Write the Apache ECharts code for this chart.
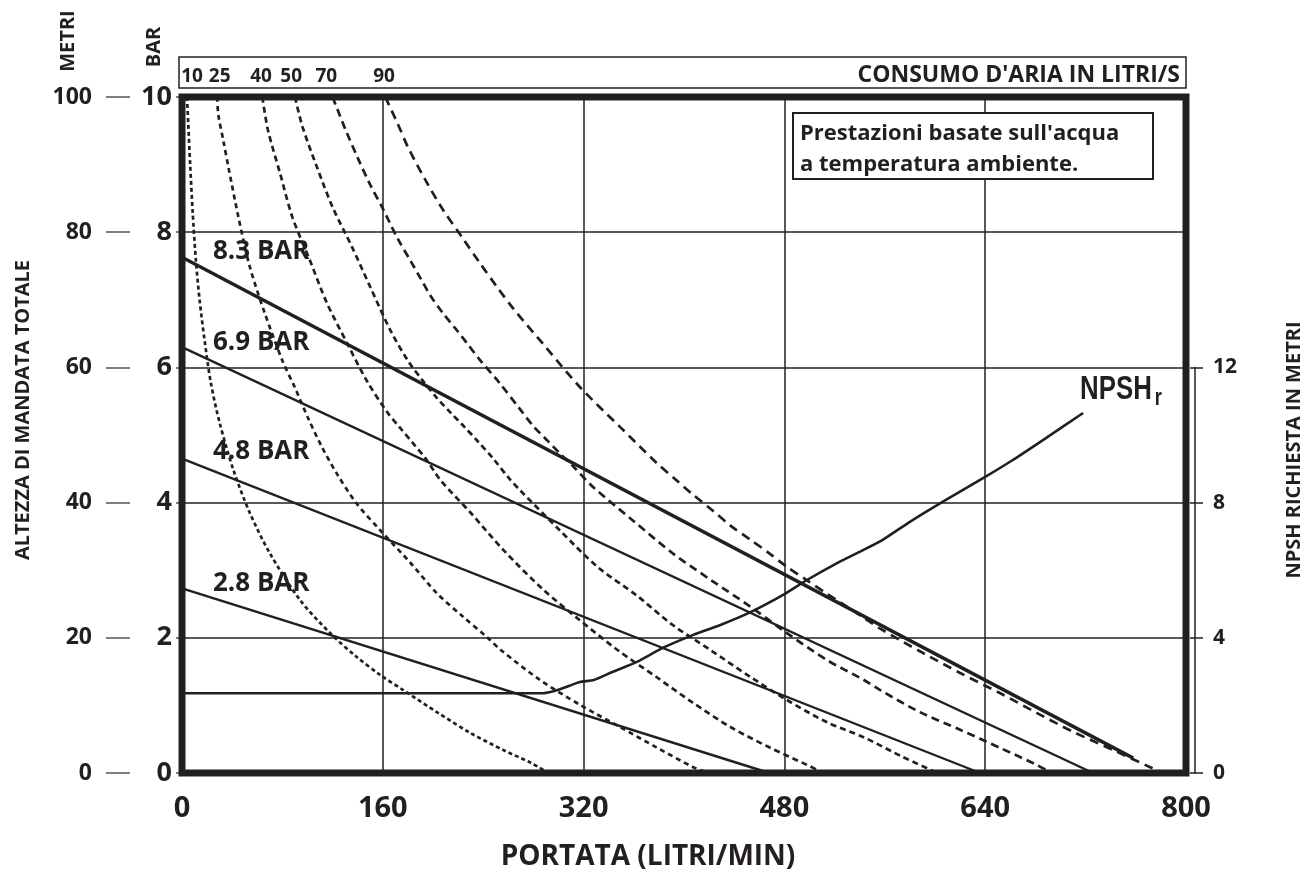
<!DOCTYPE html>
<html><head><meta charset="utf-8">
<script src="https://cdn.jsdelivr.net/npm/echarts/dist/echarts.min.js"></script>
<style>html,body{margin:0;padding:0;background:#fff}#c{width:1305px;height:875px}</style>
</head><body><div id="c"></div>
<script>
// ---------- data ----------
const xTicks = [0,160,320,480,640,800];
const metriTicks = [0,20,40,60,80,100];
const barTicks = [0,2,4,6,8,10];
const npshTicks = [0,4,8,12];
const airLabels = ['10','25','40','50','70','90'];
const airLabelPos = [8,30,63,87,115,161];
const pressureNames = ['8.3 BAR','6.9 BAR','4.8 BAR','2.8 BAR'];

// pressure lines (x: l/min, y: metri)
const p83 = [[0,76.3],[758,2.2]];
const p69 = [[0,63.0],[726,0]];
const p48 = [[0,46.5],[636,0]];
const p28 = [[0,27.3],[468,0]];

// NPSHr (x: l/min, y: metri NPSH, right axis)
const npsh = [[0,2.36],[288,2.36],[300,2.46],[317,2.69],[328,2.75],[343,2.99],[362,3.28],[383,3.70],[407,4.08],[429,4.38],[453,4.76],[479,5.27],[498,5.71],[522,6.21],[543,6.60],[558,6.89],[580,7.43],[606,8.02],[640,8.76],[662,9.26],[686,9.85],[718,10.65]];

// air consumption curves (x: l/min, y: metri)
const air10 = [[4,100],[5,96],[6.5,90],[8.5,83],[11,76],[14,70],[18,64],[23,57.7],[30,51.8],[41,44.8],[54,38.5],[70,32.5],[94,25.6],[118,20.7],[139,17.2],[158,14.5],[176,12.3],[204,8.9],[230,5.9],[256,3.4],[278,1.5],[292,0]];
const air25 = [[28,100],[29,97.3],[33,93.5],[37,89.6],[45,82.2],[54,74.9],[66,68],[80,61],[90,57],[100,52.7],[111,48.4],[123,44.4],[139,39.9],[158,35.9],[182,31.1],[203,26.6],[224,23.1],[243,20.1],[254,18.2],[285,13.8],[317,10.1],[349,6.8],[378,3.8],[407,0.9],[420,0]];
const air40 = [[64,100],[68.5,95.1],[78,88.8],[88,82.2],[102,75.8],[115.5,69.5],[131.5,63.6],[147,58.1],[163,53.5],[174,51],[184,48.8],[195,46.3],[206,43.3],[230,38.5],[256,33],[288,27.1],[317,22.6],[347,18.2],[378,14.2],[407,10.4],[437,6.8],[468,3.8],[498,1.2],[511,0]];
const air50 = [[90,100],[96,95.6],[107.6,89.6],[120,83.7],[135.5,77.8],[150,71.9],[166,65.5],[180,61],[192,58],[203,55.5],[214,53.3],[225,51.2],[236,49],[248,46.5],[261,43.5],[269,41.9],[301,35.9],[331,30.5],[362,26.3],[391,21.9],[421,18.2],[453,14.2],[482,10.8],[514,7.5],[543,5.3],[574,2.4],[602,0]];
const air70 = [[120,100],[130,95.3],[140,91],[150,87],[160,83.5],[172,79],[182,75.8],[190,73.2],[198,70.6],[208,68],[219,65.5],[227,63.6],[237,61.2],[253,57.7],[269,53.9],[280,51.3],[291,49.2],[301,47.3],[312,45.3],[327,42.4],[359,37.4],[391,32.5],[421,28.6],[453,24.6],[482,20.7],[514,16.7],[543,13.8],[556,12.3],[588,9.0],[620,6.4],[652,3.7],[681,1.2],[693,0]];
const air90 = [[162,100],[172,96],[180,92.6],[194,87.7],[208,83.3],[223,79.3],[237.5,75.4],[251,71.9],[264,68.7],[288,63.4],[317,57.1],[349,51.2],[378,45.9],[394,43.3],[407,41.2],[423,38.8],[437,36.6],[453,34.5],[468,32.5],[482,30.5],[498,28.5],[514,26.5],[543,23],[556,21.4],[590,17.8],[620,14.8],[652,11.8],[681,8.9],[710,6.1],[742,3.4],[771,0.9],[782,0]];

// ---------- chart ----------
const INK = '#231f20';
const FONT = '"Open Sans", "DejaVu Sans", sans-serif';
const NARROW = '"Liberation Sans", Arial, sans-serif';
const W = 1305, H = 875;
const gridLeft = 182, gridRight = 119, gridTop = 97, gridBottom = 102;
const plotH = H - gridTop - gridBottom;
const npshMax = 20;
const npshTop = gridTop + plotH * (1 - npshTicks[npshTicks.length - 1] / npshMax);

const chart = echarts.init(document.getElementById('c'));

const lbl = (size, extra) => Object.assign({color: INK, fontSize: size, fontWeight: 'bold', fontFamily: FONT}, extra || {});

const pressureSeries = [p83, p69, p48, p28].map((d, i) => ({
  type: 'line', name: pressureNames[i], xAxisIndex: 0, yAxisIndex: 1, data: d,
  symbol: 'none', silent: true, z: 3,
  lineStyle: {color: INK, width: i === 0 ? 3.4 : 2.4}
}));
const airSets = [air10, air25, air40, air50, air70, air90];
const airDash = [[4,3],[5,4],[6,4],[6,4],[8,5],[9,6]];
const airSeries = airSets.map((d, i) => ({
  type: 'line', name: 'air ' + airLabels[i], xAxisIndex: 0, yAxisIndex: 1, data: d,
  symbol: 'none', silent: true, smooth: 0.3, z: 2,
  lineStyle: {color: INK, width: 2.7, type: airDash[i]}
}));
const npshSeries = {
  type: 'line', name: 'NPSHr', xAxisIndex: 0, yAxisIndex: 3, data: npsh,
  symbol: 'none', silent: true, smooth: 0.2, z: 3,
  lineStyle: {color: INK, width: 2.6}
};

const vtext = (txt, x, y, size) => ({
  type: 'text', x: x, y: y, rotation: Math.PI / 2, z: 10,
  style: {text: txt, x: 0, y: 0, align: 'center', verticalAlign: 'middle',
    fontSize: size, fontWeight: 'bold', fontFamily: FONT, fill: INK}
});
const htext = (txt, x, y, size, align, z) => ({
  type: 'text', x: x, y: y, z: z || 10,
  style: {text: txt, x: 0, y: 0, align: align || 'left', verticalAlign: 'middle',
    fontSize: size, fontWeight: 'bold', fontFamily: FONT, fill: INK}
});

const option = {
  animation: false,
  backgroundColor: '#fff',
  grid: [
    {left: gridLeft, right: gridRight, top: gridTop, bottom: gridBottom, show: true,
     borderColor: INK, borderWidth: 7, backgroundColor: 'transparent', z: 5,
     containLabel: false, outerBoundsMode: 'none'},
    {left: 1195, width: 8, top: npshTop, bottom: gridBottom, show: false,
     containLabel: false, outerBoundsMode: 'none'}
  ],
  xAxis: [
    {type: 'value', gridIndex: 0, min: xTicks[0], max: xTicks[xTicks.length - 1], interval: xTicks[1] - xTicks[0],
     axisLine: {show: false}, axisTick: {show: false},
     axisLabel: lbl(29, {margin: 21}),
     splitLine: {show: true, lineStyle: {color: INK, width: 1.5}}},
    {type: 'value', gridIndex: 1, show: false, min: 0, max: 1},
    {type: 'value', gridIndex: 0, position: 'top', min: xTicks[0], max: xTicks[xTicks.length - 1],
     axisLine: {show: false}, axisTick: {show: false}, splitLine: {show: false},
     axisLabel: lbl(19, {margin: 11, customValues: airLabelPos,
       formatter: v => { const k = airLabelPos.indexOf(v); return k >= 0 ? airLabels[k] : ''; }})}
  ],
  yAxis: [
    {type: 'value', gridIndex: 0, position: 'left', min: barTicks[0], max: barTicks[barTicks.length - 1], interval: barTicks[1] - barTicks[0],
     axisLine: {show: false}, axisTick: {show: false},
     axisLabel: lbl(27, {margin: 10}),
     splitLine: {show: true, lineStyle: {color: INK, width: 1.5}}},
    {type: 'value', gridIndex: 0, position: 'left', offset: 76, min: metriTicks[0], max: metriTicks[metriTicks.length - 1], interval: metriTicks[1] - metriTicks[0],
     axisLine: {show: true, lineStyle: {color: '#6d6d6d', width: 1.5}},
     axisTick: {show: true, length: 6, lineStyle: {color: '#555', width: 1.5}},
     axisLabel: lbl(23, {margin: 14}),
     splitLine: {show: false}},
    {type: 'value', gridIndex: 0, position: 'left', offset: 76, min: metriTicks[0], max: metriTicks[metriTicks.length - 1], interval: metriTicks[1] - metriTicks[0],
     axisLine: {show: false}, axisTick: {show: true, inside: true, length: 24, lineStyle: {color: '#555', width: 1.5}},
     axisLabel: {show: false}, splitLine: {show: false}},
    {type: 'value', gridIndex: 0, position: 'right', min: 0, max: npshMax, show: false},
    {type: 'value', gridIndex: 1, position: 'right', min: npshTicks[0], max: npshTicks[npshTicks.length - 1], interval: npshTicks[1] - npshTicks[0],
     axisLine: {show: true, lineStyle: {color: INK, width: 1.5}},
     axisTick: {show: true, length: 4, lineStyle: {color: INK, width: 1.5}},
     axisLabel: lbl(21, {margin: 10}), splitLine: {show: false}},
    {type: 'value', gridIndex: 1, position: 'right', min: npshTicks[0], max: npshTicks[npshTicks.length - 1], interval: npshTicks[1] - npshTicks[0],
     axisLine: {show: false},
     axisTick: {show: true, inside: true, length: 13, lineStyle: {color: INK, width: 1.5}},
     axisLabel: {show: false}, splitLine: {show: false}}
  ],
  graphic: [
    {type: 'rect', z: 10, shape: {x: 179, y: 57, width: 1007, height: 31}, style: {fill: 'none', stroke: INK, lineWidth: 1.5}},
    htext("CONSUMO D'ARIA IN LITRI/S", 1180, 75, 23, 'right'),
    {type: 'rect', z: 10, shape: {x: 793, y: 113, width: 360, height: 66}, style: {fill: '#fff', stroke: INK, lineWidth: 2}},
    htext("Prestazioni basate sull'acqua", 800, 134, 22, 'left', 11),
    htext('a temperatura ambiente.', 800, 165, 22, 'left', 11),
    vtext('METRI', 68, 41, 20),
    vtext('BAR', 154, 47, 20),
    vtext('ALTEZZA DI MANDATA TOTALE', 23, 410, 20),
    vtext('NPSH RICHIESTA IN METRI', 1294, 450, 20),
    htext(pressureNames[0], 213, 252, 26),
    htext(pressureNames[1], 213, 343, 26),
    htext(pressureNames[2], 213, 452, 26),
    htext(pressureNames[3], 213, 584, 26),
    htext('PORTATA (LITRI/MIN)', 648, 857, 28, 'center'),
    {type: 'text', x: 1080, y: 390, z: 10, scaleX: 0.76,
     style: {text: '{a|NPSH}{b|r}', x: 0, y: 0, align: 'left', verticalAlign: 'middle',
       rich: {a: {fontSize: 34, fontWeight: 'bold', fontFamily: NARROW, fill: INK, color: INK},
              b: {fontSize: 24, fontWeight: 'bold', fontFamily: NARROW, fill: INK, color: INK, padding: [16, 0, 0, 4]}}}}
  ],
  series: [...airSeries, ...pressureSeries, npshSeries]
};
chart.setOption(option);
</script>
</body></html>
